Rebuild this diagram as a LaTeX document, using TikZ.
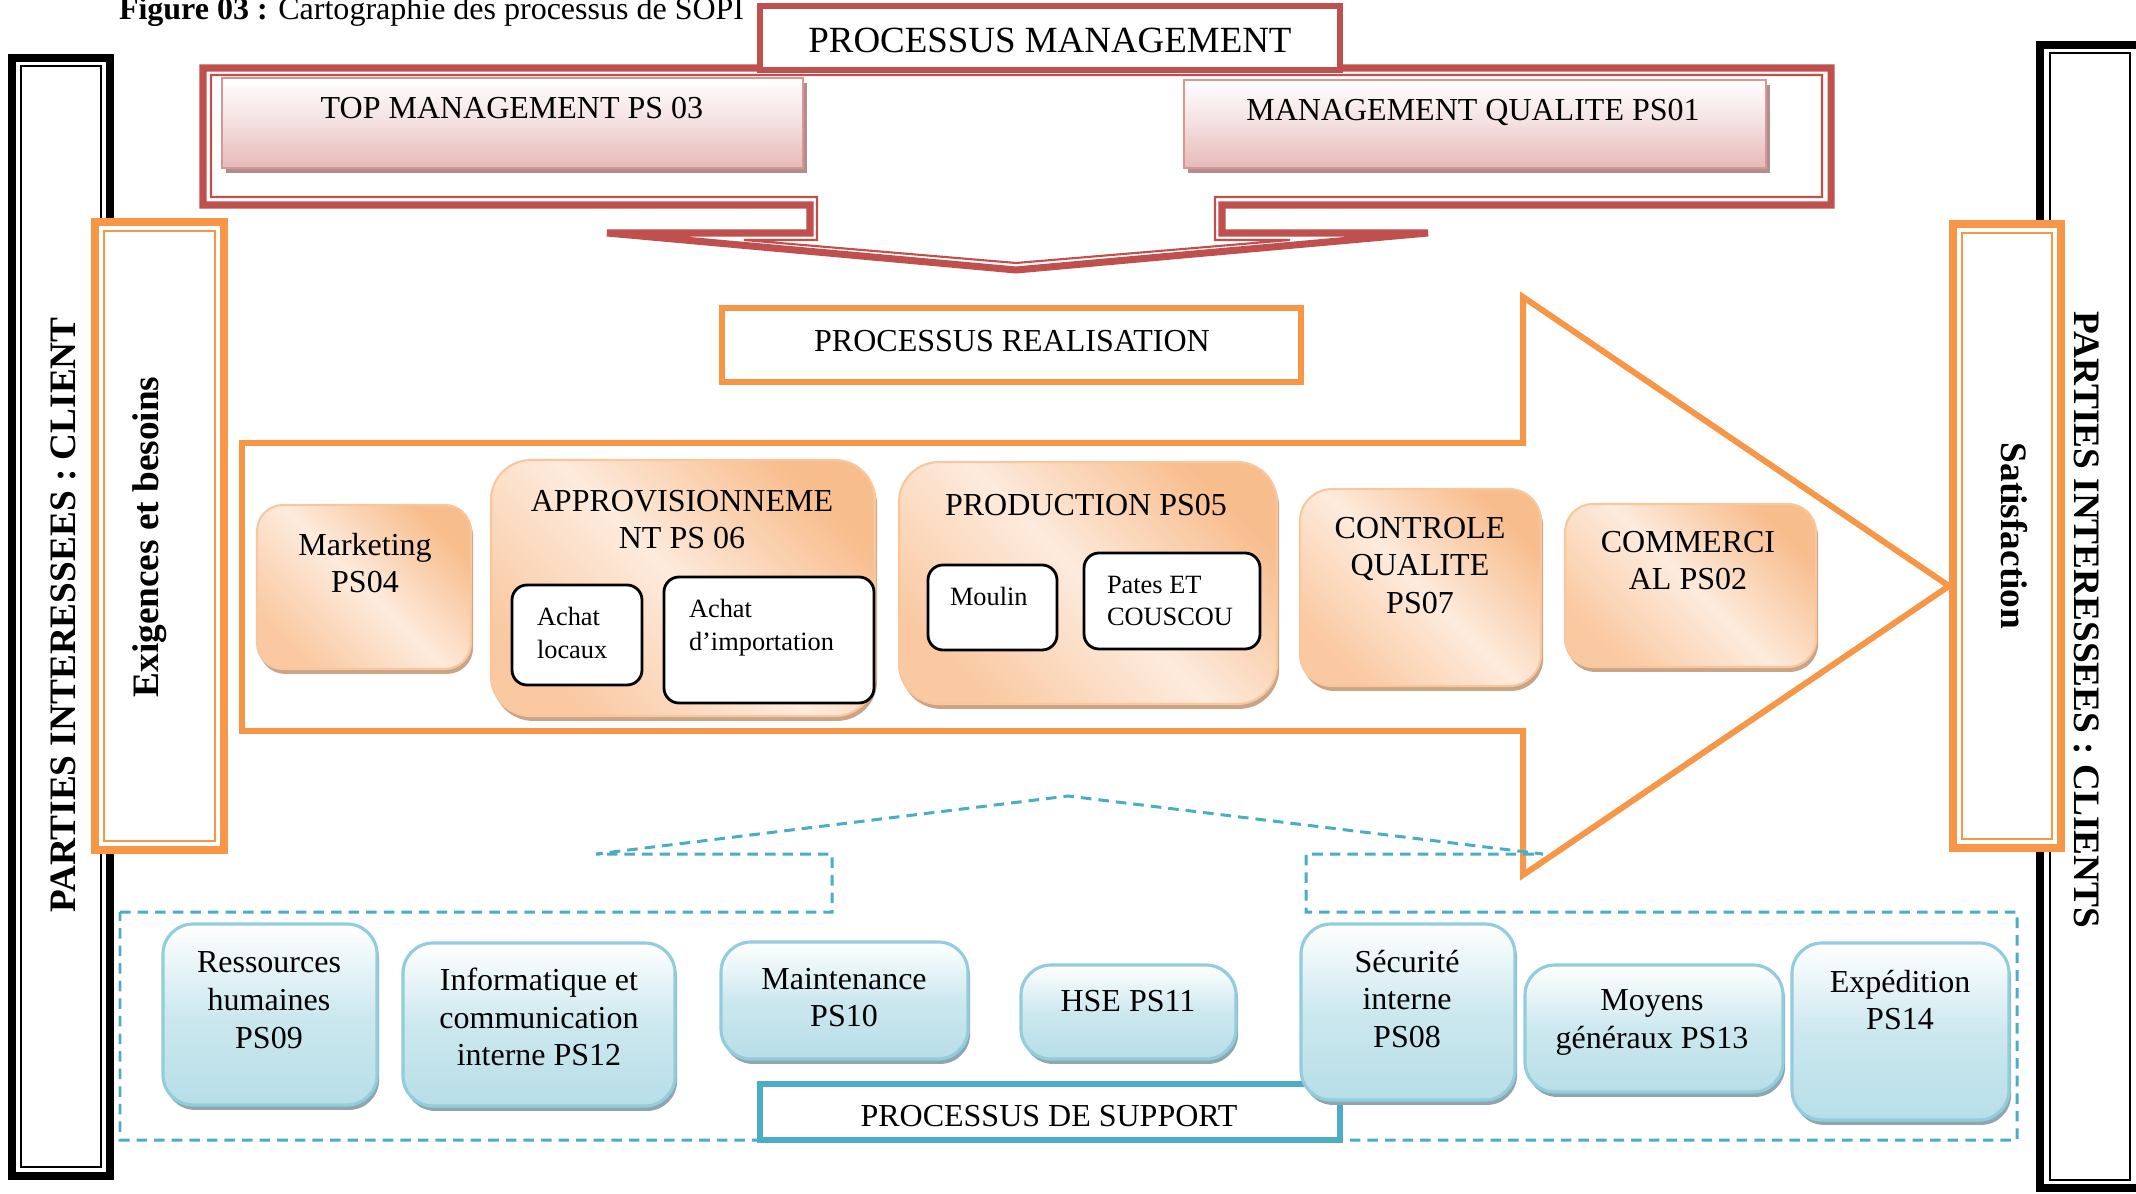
\documentclass[tikz,border=0pt]{standalone}
\usepackage{fontspec}
\setmainfont{Liberation Serif}
\usetikzlibrary{fit,shadows}

\definecolor{redM}{HTML}{C0504D}
\definecolor{pinkB}{HTML}{E6B9B8}
\definecolor{pinkE}{HTML}{D99694}
\definecolor{shPink}{HTML}{B08E8D}
\definecolor{orgA}{HTML}{F79646}
\definecolor{orgD}{HTML}{F8BD8D}
\definecolor{orgM}{HTML}{FAC9A1}
\definecolor{orgL}{HTML}{FDEBDD}
\definecolor{orgE}{HTML}{F9C79E}
\definecolor{shOrg}{HTML}{C9A487}
\definecolor{bluA}{HTML}{4BACC6}
\definecolor{bluB}{HTML}{B7DEE8}
\definecolor{bluE}{HTML}{93CDDD}
\definecolor{shBlu}{HTML}{8FA6AE}

\tikzset{
  every node/.style={inner sep=0pt, outer sep=0pt},
  lbl/.style={font=\fontsize{9.1}{10.7}\selectfont, align=center},
  lblsmall/.style={font=\fontsize{7.5}{9.3}\selectfont, align=left},
  lblside/.style={font=\fontsize{10.6}{12}\selectfont\bfseries},
  lblhead/.style={font=\fontsize{10.5}{12}\selectfont},
  pinkbox/.style={draw=pinkE, line width=0.6pt, top color=white, bottom color=pinkB,
    middle color=pinkB!45,
    drop shadow={shadow xshift=1.1pt, shadow yshift=-1.4pt, fill=shPink, opacity=1}},
  orgbox/.style={draw=orgE, line width=0.6pt, top color=orgD, bottom color=orgM,
    middle color=orgL, shading angle=-45,
    drop shadow={shadow xshift=0.6pt, shadow yshift=-1.4pt, fill=shOrg, opacity=1}},
  subbox/.style={draw=black, line width=0.8pt, fill=white, rounded corners=0.15cm},
  blubox/.style={draw=bluE, line width=0.9pt, top color=white, bottom color=bluB,
    middle color=bluB!70, rounded corners=0.3cm,
    drop shadow={shadow xshift=0.6pt, shadow yshift=-1.4pt, fill=shBlu, opacity=1}},
  headbox/.style={draw=#1, line width=1.7pt, fill=white},
  dashline/.style={draw=bluA, line width=0.85pt, dash pattern=on 3pt off 2pt},
}

\begin{document}
\begin{tikzpicture}[x=0.01cm, y=-0.01cm]
\useasboundingbox (0,0) rectangle (2136,1194);

% interested parties: double black frames
\draw[line width=2.3pt] (12,58) rectangle (110,1176);
\draw[line width=0.6pt] (21,66) rectangle (101,1167);
\draw[line width=2.3pt] (2040,45) rectangle (2144,1188);
\draw[line width=0.6pt] (2050,53) rectangle (2130,1180);
\node[lblside, rotate=90] (pic) at (63,615) {PARTIES INTERESSEES : CLIENT};
\node[lblside, rotate=-90] (pis) at (2087,620) {PARTIES INTERESSEES : CLIENTS};

% requirements and satisfaction frames
\draw[orgA, line width=2.3pt, fill=white] (95,222) rectangle (224,850);
\draw[orgA, line width=0.6pt] (104,231) rectangle (215,841);
\node[lblside, rotate=90] (exi) at (150,537) {Exigences et besoins};
\draw[orgA, line width=2.3pt, fill=white] (1953,224) rectangle (2061,848);
\draw[orgA, line width=0.6pt] (1962,233) rectangle (2052,839);
\node[lblside, rotate=-90] (sat) at (2014,536) {Satisfaction};

% management callout with downward chevron
\draw[redM, line width=2pt, line join=miter]
  (203,68) -- (1831,68) -- (1831,205) -- (1222,205) -- (1222,233) -- (1428,233)
  -- (1016,270) -- (607,233) -- (810,233) -- (810,205) -- (203,205) -- cycle;
\draw[redM, line width=0.6pt]
  (211,75) -- (1822,75) -- (1822,197) -- (1215,197) -- (1215,240) -- (1290,240)
  -- (1016,263) -- (744,240) -- (817,240) -- (817,197) -- (211,197) -- cycle;

\node[headbox=redM, fit={(760,6) (1340,70)}] (pm) {};
\node[lblhead, anchor=base] (pmt) at (1050,53) {PROCESSUS MANAGEMENT};

\node[pinkbox, fit={(222,78) (803,168)}] (topm) {};
\node[lbl, anchor=base] (topmt) at (512,119) {TOP MANAGEMENT PS 03};
\node[pinkbox, fit={(1184,80) (1766,168)}] (mq) {};
\node[lbl, anchor=base] (mqt) at (1473,121) {MANAGEMENT QUALITE PS01};

% realisation processes
\node[headbox=orgA, fit={(722,308) (1301,382)}] (pr) {};
\node[lbl, anchor=base] (prt) at (1012,351) {PROCESSUS REALISATION};

\draw[orgA, line width=1.7pt, line join=miter]
  (242,443) -- (1523,443) -- (1523,297) -- (1949,586) -- (1523,875)
  -- (1523,731) -- (242,731) -- cycle;

\node[orgbox, rounded corners=0.26cm, fit={(257,505) (471,669)}] (mk) {};
\node[lbl, anchor=north] (mkt) at (365,533) {Marketing\\PS04};

\node[orgbox, rounded corners=0.4cm, fit={(491,460) (875,716)}] (ap) {};
\node[lbl, anchor=north] (apt) at (682,490) {APPROVISIONNEME\\NT PS 06};
\node[subbox, fit={(512,585) (642,685)}] (al) {};
\node[lblsmall, anchor=north west] (alt) at (537,607) {Achat\\locaux};
\node[subbox, fit={(664,577) (874,703)}] (ai) {};
\node[lblsmall, anchor=north west] (ait) at (689,599) {Achat\\d’importation};

\node[orgbox, rounded corners=0.4cm, fit={(899,462) (1277,704)}] (pd) {};
\node[lbl, anchor=base] (pdt) at (1086,515) {PRODUCTION PS05};
\node[subbox, fit={(928,565) (1057,650)}] (mo) {};
\node[lblsmall, anchor=base west] (mot) at (950,605) {Moulin};
\node[subbox, fit={(1084,553) (1260,649)}] (pc) {};
\node[lblsmall, anchor=north west] (pct) at (1107,576) {Pates ET\\COUSCOU};

\node[orgbox, rounded corners=0.32cm, fit={(1300,489) (1541,686)}] (cq) {};
\node[lbl, anchor=north] (cqt) at (1420,517) {CONTROLE\\QUALITE\\PS07};

\node[orgbox, rounded corners=0.28cm, fit={(1565,504) (1816,667)}] (cm) {};
\node[lbl, anchor=north] (cmt) at (1688,531) {COMMERCI\\AL PS02};

% support processes
\draw[dashline] (120,912) -- (832,912) -- (832,854) -- (596,854) -- (1068,796)
  -- (1543,854) -- (1306,854) -- (1306,912) -- (2017,912) -- (2017,1140)
  -- (120,1140) -- cycle;

\node[headbox=bluA, fit={(760,1084) (1340,1140)}] (ps) {};
\node[lbl, anchor=base] (pst) at (1049,1126) {PROCESSUS DE SUPPORT};

\node[blubox, fit={(163,924) (377,1105)}] (rh) {};
\node[lbl, anchor=north] (rht) at (269,952) {Ressources\\humaines\\PS09};
\node[blubox, fit={(403,943) (675,1106)}] (ic) {};
\node[lbl, anchor=north] (ict) at (539,968) {Informatique et\\communication\\interne PS12};
\node[blubox, fit={(721,942) (968,1059)}] (mt) {};
\node[lbl, anchor=north] (mtt) at (844,968) {Maintenance\\PS10};
\node[blubox, fit={(1021,965) (1236,1059)}] (hs) {};
\node[lbl, anchor=base] (hst) at (1128,1011) {HSE PS11};
\node[blubox, fit={(1301,924) (1515,1100)}] (si) {};
\node[lbl, anchor=north] (sit) at (1407,950) {Sécurité\\interne\\PS08};
\node[blubox, fit={(1525,965) (1783,1092)}] (mg) {};
\node[lbl, anchor=north] (mgt) at (1652,990) {Moyens\\généraux PS13};
\node[blubox, fit={(1792,943) (2009,1120)}] (ex) {};
\node[lbl, anchor=north] (ext) at (1900,970) {Expédition\\PS14};

% caption
\node[lbl, anchor=base west, align=left] (ttl) at (119,20)
  {\textbf{Figure 03 :} Cartographie des processus de SOPI};
\end{tikzpicture}
\end{document}
